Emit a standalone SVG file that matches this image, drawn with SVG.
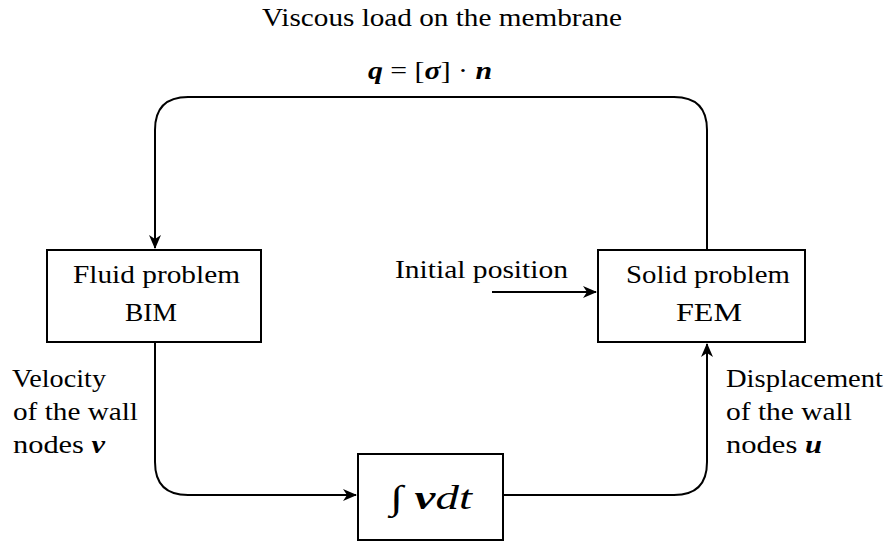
<svg xmlns="http://www.w3.org/2000/svg" width="885" height="542" viewBox="0 0 885 542">
<defs>
<style>
text{font-family:Liberation Serif,Times New Roman,Tinos,Noto Serif,DejaVu Serif,FreeSerif,serif;font-size:25px;fill:#000}
.m{font-style:italic;font-weight:bold}
.box{fill:#fff;stroke:#000;stroke-width:2}
.c{fill:none;stroke:#000;stroke-width:2}
</style>
<marker id="ah" viewBox="0 0 14 12" refX="13" refY="6" markerWidth="14" markerHeight="12" markerUnits="userSpaceOnUse" orient="auto">
<path d="M0,0 L14,6 L0,12 L4,6 Z" fill="#000"/>
</marker>
</defs>
<rect width="885" height="542" fill="#fff"/>
<g id="labels">
<text x="262" y="26" textLength="360" lengthAdjust="spacingAndGlyphs">Viscous load on the membrane</text>
<text x="368" y="79" textLength="124" lengthAdjust="spacingAndGlyphs"><tspan class="m">q</tspan> = [<tspan class="m">σ</tspan>] · <tspan class="m">n</tspan></text>
<text x="395" y="278" textLength="173" lengthAdjust="spacingAndGlyphs">Initial position</text>
<text x="12" y="387" textLength="94" lengthAdjust="spacingAndGlyphs">Velocity</text>
<text x="13" y="420" textLength="125" lengthAdjust="spacingAndGlyphs">of the wall</text>
<text x="13" y="453" textLength="92" lengthAdjust="spacingAndGlyphs">nodes <tspan class="m">v</tspan></text>
<text x="726" y="387" textLength="157" lengthAdjust="spacingAndGlyphs">Displacement</text>
<text x="726" y="420" textLength="126" lengthAdjust="spacingAndGlyphs">of the wall</text>
<text x="726" y="453" textLength="96" lengthAdjust="spacingAndGlyphs">nodes <tspan class="m">u</tspan></text>
</g>
<g id="connectors">
<path class="c" d="M707,250 L707,130 Q707,97 674,97 L188,97 Q155,97 155,130 L155,248" marker-end="url(#ah)"/>
<path class="c" d="M155,342 L155,462 Q155,495 188,495 L356,495" marker-end="url(#ah)"/>
<path class="c" d="M503,495 L674,495 Q707,495 707,462 L707,344" marker-end="url(#ah)"/>
<path class="c" d="M492,292 L596,292" marker-end="url(#ah)"/>
</g>
<g id="fluid">
<rect class="box" x="47" y="250" width="214" height="92"/>
<text x="73" y="283" textLength="167" lengthAdjust="spacingAndGlyphs">Fluid problem</text>
<text x="125" y="321" textLength="52" lengthAdjust="spacingAndGlyphs">BIM</text>
</g>
<g id="solid">
<rect class="box" x="598" y="250" width="207" height="92"/>
<text x="626" y="283" textLength="164" lengthAdjust="spacingAndGlyphs">Solid problem</text>
<text x="676" y="321" textLength="66" lengthAdjust="spacingAndGlyphs">FEM</text>
</g>
<g id="integral">
<rect class="box" x="358" y="454" width="145" height="86"/>
<text x="390" y="509" style="font-size:34px" textLength="82" lengthAdjust="spacingAndGlyphs">∫ <tspan class="m">v</tspan><tspan font-style="italic">dt</tspan></text>
</g>
</svg>
